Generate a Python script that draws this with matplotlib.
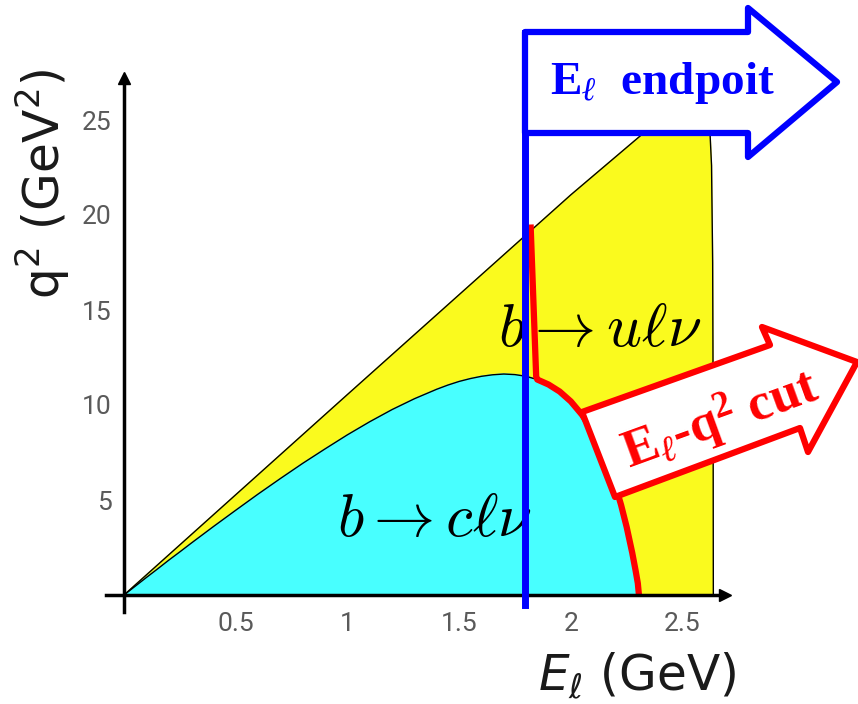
import numpy as np
import matplotlib.pyplot as plt
from matplotlib.patches import Polygon
from matplotlib.transforms import Affine2D

# kinematic boundaries, lepton energy E (GeV) vs q^2 (GeV^2)
u_E = [0.0, 1.0, 2.0, 2.5, 2.58, 2.62, 2.63, 2.635, 2.637, 2.638]
u_q2 = [0.0, 10.55, 21.06, 26.05, 26.4, 25.1, 22.6, 17.5, 10.6, 0.0]

c_E = [0.0, 0.05, 0.1, 0.15, 0.2, 0.25, 0.3, 0.4, 0.5, 0.6, 0.7, 0.8, 0.9,
       1.0, 1.1, 1.2, 1.3, 1.4, 1.45, 1.5, 1.55, 1.6, 1.65, 1.7, 1.75, 1.8,
       1.85, 1.9, 1.95, 2.0, 2.05, 2.1, 2.15, 2.175, 2.2, 2.225, 2.25, 2.275,
       2.29, 2.30, 2.305]
c_q2 = [0.0, 0.46, 0.92, 1.37, 1.83, 2.27, 2.72, 3.60, 4.46, 5.31, 6.13, 6.93,
        7.69, 8.43, 9.12, 9.76, 10.33, 10.83, 11.05, 11.24, 11.39, 11.51, 11.59,
        11.63, 11.60, 11.51, 11.34, 11.08, 10.71, 10.19, 9.49, 8.57, 7.35, 6.61,
        5.74, 4.74, 3.58, 2.22, 1.29, 0.62, 0.0]

# E_l - q^2 cut boundary
cut_E = [1.82, 1.845, 1.85, 1.9, 1.95, 2.0, 2.05, 2.1, 2.15, 2.175, 2.2,
         2.225, 2.25, 2.275, 2.29, 2.30, 2.305]
cut_q2 = [19.5, 11.5, 11.34, 11.08, 10.71, 10.19, 9.49, 8.57, 7.35, 6.61,
          5.74, 4.74, 3.58, 2.22, 1.29, 0.62, 0.0]
cut_end = 2.64

# lepton endpoint cut
E_endpoint = 1.795

xticks = [0.5, 1, 1.5, 2, 2.5]
xticklabels = ['0.5', '1', '1.5', '2', '2.5']
yticks = [5, 10, 15, 20, 25]
yticklabels = ['5', '10', '15', '20', '25']

W, H = 858, 704
plt.rcParams['mathtext.fontset'] = 'custom'
plt.rcParams['mathtext.rm'] = 'Liberation Serif:bold'
plt.rcParams['mathtext.it'] = 'Liberation Serif:italic:bold'
plt.rcParams['mathtext.bf'] = 'Liberation Serif:bold'

fig = plt.figure(figsize=(W / 100, H / 100), dpi=100)
ax = fig.add_axes([0, 0, 1, 1])
ax.set_xlim(-124 / 223.4, (W - 124) / 223.4)
ax.set_ylim((595 - H) / 19.0, 595 / 19.0)

# pixel coordinates (y down) for the call-out arrows
pix = Affine2D().scale(1 / W, -1 / H).translate(0, 1) + fig.transFigure

# regions
ax.fill(u_E + [u_E[0]], u_q2 + [0], color='#fafa1e', zorder=1)
ax.plot(u_E, u_q2, color='k', lw=1.0, zorder=1.5)
ax.fill(c_E, c_q2, color='#48ffff', zorder=1.2)
ax.plot(c_E, c_q2, color='k', lw=1.0, zorder=1.5)

# cut boundary
ax.plot(cut_E, cut_q2, color='#ff0000', lw=4.5, solid_capstyle='butt',
        solid_joinstyle='round', zorder=2)
ax.plot([cut_E[-1], cut_end], [0, 0], color='#ff0000', lw=2, zorder=2)

# axes with arrows
for s in ['top', 'right']:
    ax.spines[s].set_visible(False)
ax.spines['left'].set_position(('data', 0))
ax.spines['bottom'].set_position(('data', 0))
ax.spines['left'].set_bounds(-0.9, 27.0)
ax.spines['bottom'].set_bounds(-0.08, 2.68)
ax.spines['left'].set_linewidth(2.5)
ax.spines['bottom'].set_linewidth(2.5)
ax.plot(0, 27.2, marker='^', ms=9, color='k', clip_on=False, zorder=3)
ax.plot(2.69, 0, marker='>', ms=9, color='k', clip_on=False, zorder=3)

tick_font = dict(family=['Roboto', 'DejaVu Sans'], weight='normal', size=19, color='#5a5a5a')
ax.set_xticks(xticks)
ax.set_xticklabels(xticklabels, fontdict=tick_font)
ax.set_yticks(yticks)
ax.set_yticklabels(yticklabels, fontdict=tick_font)
ax.tick_params(length=0)
ax.tick_params(axis='x', pad=12)
ax.tick_params(axis='y', pad=9)

fig.text(43, 184, r'q$^2$ (GeV$^2$)', transform=pix, fontsize=35, family='DejaVu Sans',
         math_fontfamily='dejavusans', color='#1a1a1a', rotation=90, ha='center', va='center')
fig.text(637, 676, r'$E_\ell$ (GeV)', transform=pix, fontsize=35, family='DejaVu Sans',
         math_fontfamily='dejavusans', color='#1a1a1a', ha='center', va='center')

ax.text(2.13, 13.95, r'$b \rightarrow u\ell\nu$', fontsize=44, math_fontfamily='cm',
        ha='center', va='center', zorder=4)
ax.text(1.39, 3.95, r'$b \rightarrow c\ell\nu$', fontsize=44, math_fontfamily='cm',
        ha='center', va='center', zorder=4)

# endpoint line and arrow
ax.plot([E_endpoint, E_endpoint], [-0.5, 29.6], color='#0000ff', lw=5, zorder=5, clip_on=False)
blue = [(525, 32), (748, 32), (748, 8), (837, 82), (748, 157), (748, 133), (525, 133)]
fig.patches.append(Polygon(blue, closed=True, transform=pix, facecolor='white',
                           edgecolor='#0000ff', lw=4.5, joinstyle='round', zorder=6))
fig.text(550, 94, r'$\mathbf{E}_{\ell}$  endpoit', transform=pix, color='#0000ff',
         fontsize=34, family='Liberation Serif', weight='bold', ha='left', va='baseline', zorder=7)

# E-q2 cut arrow
red = [(615, 497), (582, 412), (770, 345), (762, 327), (857, 362), (808, 452), (800, 428)]
fig.patches.append(Polygon(red, closed=True, transform=pix, facecolor='white',
                           edgecolor='#ff0000', lw=4.5, joinstyle='round', zorder=6))
fig.text(720, 420, r'$\mathbf{E}_{\ell}$-q$^{\mathbf{2}}$ cut', transform=pix, color='#ff0000',
         fontsize=38, family='Liberation Serif', weight='bold', rotation=20,
         rotation_mode='anchor', ha='center', va='center', zorder=7)

plt.savefig('out.png', dpi=100)
